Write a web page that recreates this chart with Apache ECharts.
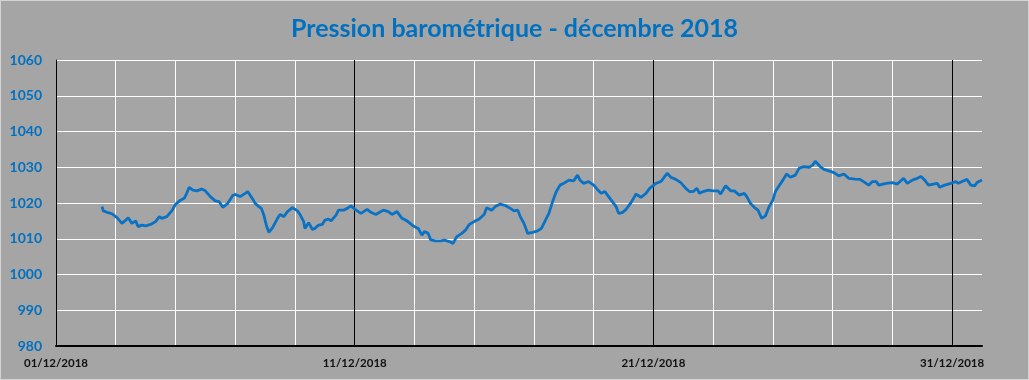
<!DOCTYPE html>
<html>
<head>
<meta charset="utf-8">
<script src="https://cdn.jsdelivr.net/npm/echarts@6/dist/echarts.min.js"></script>
<style>
html,body{margin:0;padding:0;background:#A5A5A5;}
#chart{width:1027px;height:378px;border:1px solid #D4D4D4;background:#A5A5A5;}
</style>
</head>
<body>
<div id="chart"></div>
<script>
// Hours since 01/12/2018 00:00
const hours = [37,38,41,45,49,53,56,58,61,64,66,69,72,76,80,83,85,89,93,96,100,103,105,107,110,113,117,120,124,128,131,134,138,142,144,148,152,154,158,160,163,165,167,169,171,174,178,180,183,186,190,194,196,199,200,203,206,208,211,214,216,219,221,225,227,231,234,237,240,242,245,250,253,257,263,267,270,274,278,282,287,291,294,296,299,301,305,309,312,316,319,322,326,329,332,336,340,344,346,350,353,357,361,365,368,371,373,376,379,383,387,390,393,396,399,402,405,408,412,416,419,421,424,428,432,435,438,441,444,447,450,452,455,458,462,464,466,470,474,477,482,486,488,491,494,498,502,506,509,512,515,517,520,524,528,532,534,538,542,545,549,553,555,558,561,564,567,570,573,576,578,581,584,587,590,594,597,601,605,608,610,614,617,621,625,629,633,637,642,646,650,653,656,659,661,667,672,676,681,684,688,692,695,698,701,705,708,710,714,719,723,725,728,732,735,738,740,744];
// Pressure (hPa)
const pressure = [1019.0,1017.8,1017.4,1017.0,1015.9,1014.3,1015.2,1015.9,1014.3,1015.0,1013.4,1013.8,1013.6,1014.0,1014.8,1016.2,1015.7,1016.2,1017.8,1019.6,1020.8,1021.3,1022.7,1024.4,1023.6,1023.4,1023.9,1023.4,1021.8,1020.6,1020.4,1018.8,1019.9,1022.1,1022.4,1021.8,1022.7,1023.2,1021.1,1019.9,1019.0,1018.5,1016.6,1013.8,1011.8,1013.1,1015.7,1016.8,1016.2,1017.6,1018.7,1017.8,1016.8,1014.8,1012.9,1014.5,1012.6,1012.9,1013.8,1014.0,1015.2,1015.5,1015.0,1016.6,1018.0,1018.0,1018.5,1019.2,1018.3,1017.8,1017.1,1018.2,1017.4,1016.8,1018.0,1017.6,1016.8,1017.6,1015.7,1015.0,1013.6,1012.9,1011.0,1012.0,1011.5,1009.7,1009.4,1009.4,1009.6,1009.2,1008.7,1010.6,1011.5,1012.4,1014.0,1014.8,1015.5,1016.8,1018.7,1018.0,1019.0,1019.7,1019.3,1018.5,1017.8,1018.0,1016.2,1014.3,1011.5,1011.8,1012.2,1012.9,1015.0,1017.1,1020.4,1023.2,1025.0,1025.5,1026.4,1026.2,1027.8,1026.4,1025.5,1026.0,1025.0,1023.8,1022.7,1023.2,1021.8,1020.4,1019.0,1017.1,1017.3,1018.2,1020.1,1021.3,1022.5,1021.6,1022.7,1024.1,1025.5,1026.0,1026.9,1028.3,1027.2,1026.6,1025.7,1024.1,1023.2,1023.2,1024.1,1022.7,1023.2,1023.6,1023.4,1023.4,1022.5,1024.8,1023.4,1023.4,1022.2,1022.7,1021.8,1019.9,1018.8,1018.0,1015.7,1016.4,1019.0,1020.8,1023.2,1024.8,1026.4,1028.1,1027.2,1027.8,1029.7,1030.2,1030.0,1030.6,1031.7,1030.2,1029.4,1029.0,1028.5,1027.6,1028.1,1026.9,1026.7,1026.6,1025.7,1025.0,1026.0,1026.0,1025.0,1025.5,1025.7,1025.3,1026.9,1025.5,1026.4,1026.9,1027.4,1026.4,1025.0,1025.3,1025.5,1024.4,1025.0,1025.5,1026.0,1025.5,1026.0,1026.6,1025.0,1024.8,1025.7,1026.4];
const xLabels = ['01/12/2018','11/12/2018','21/12/2018','31/12/2018'];
const yMin = 980, yMax = 1060, yStep = 10;
const xMax = 744, minorStep = 48, majorStep = 240;

const chart = echarts.init(document.getElementById('chart'));
chart.setOption({
  backgroundColor: '#A5A5A5',
  animation: false,
  title: {
    text: 'Pression barométrique - décembre 2018',
    left: 'center', top: 10,
    textStyle: {color: '#0070C0', fontSize: 25, fontWeight: 'bold', fontFamily: 'Lato'}
  },
  grid: {left: 55, right: 46, top: 59, bottom: 33},
  xAxis: [{
    type: 'value', min: 0, max: xMax, interval: minorStep,
    axisLine: {show: true, onZero: false, lineStyle: {color: '#000', width: 2}},
    axisTick: {show: false},
    axisLabel: {
      show: true, margin: 11, color: '#111', fontSize: 11.5, fontWeight: 'bold', fontFamily: 'Lato',
      showMaxLabel: false,
      formatter: v => (v % majorStep === 0 ? xLabels[v / majorStep] : '')
    },
    splitLine: {show: true, showMinLine: false, showMaxLine: false, lineStyle: {color: '#FFFFFF', width: 1}}
  }, {
    type: 'value', min: 0, max: xMax, interval: majorStep, position: 'bottom',
    axisLine: {show: false}, axisTick: {show: false}, axisLabel: {show: false},
    splitLine: {show: true, showMinLine: false, showMaxLine: false, lineStyle: {color: '#000000', width: 1}}
  }],
  yAxis: {
    type: 'value', min: yMin, max: yMax, interval: yStep,
    axisLine: {show: true, lineStyle: {color: '#000', width: 1}},
    axisTick: {show: false},
    axisLabel: {margin: 14, color: '#0070C0', fontSize: 14, fontWeight: 'bold', fontFamily: 'Lato',
      formatter: v => String(v)},
    splitLine: {show: true, lineStyle: {color: '#FFFFFF', width: 1}}
  },
  series: [{
    type: 'line', xAxisIndex: 0,
    data: hours.map((h, i) => [h, pressure[i]]),
    showSymbol: false,
    lineStyle: {color: '#0A72C4', width: 2.8},
    itemStyle: {color: '#0A72C4'}
  }]
});
</script>
</body>
</html>
